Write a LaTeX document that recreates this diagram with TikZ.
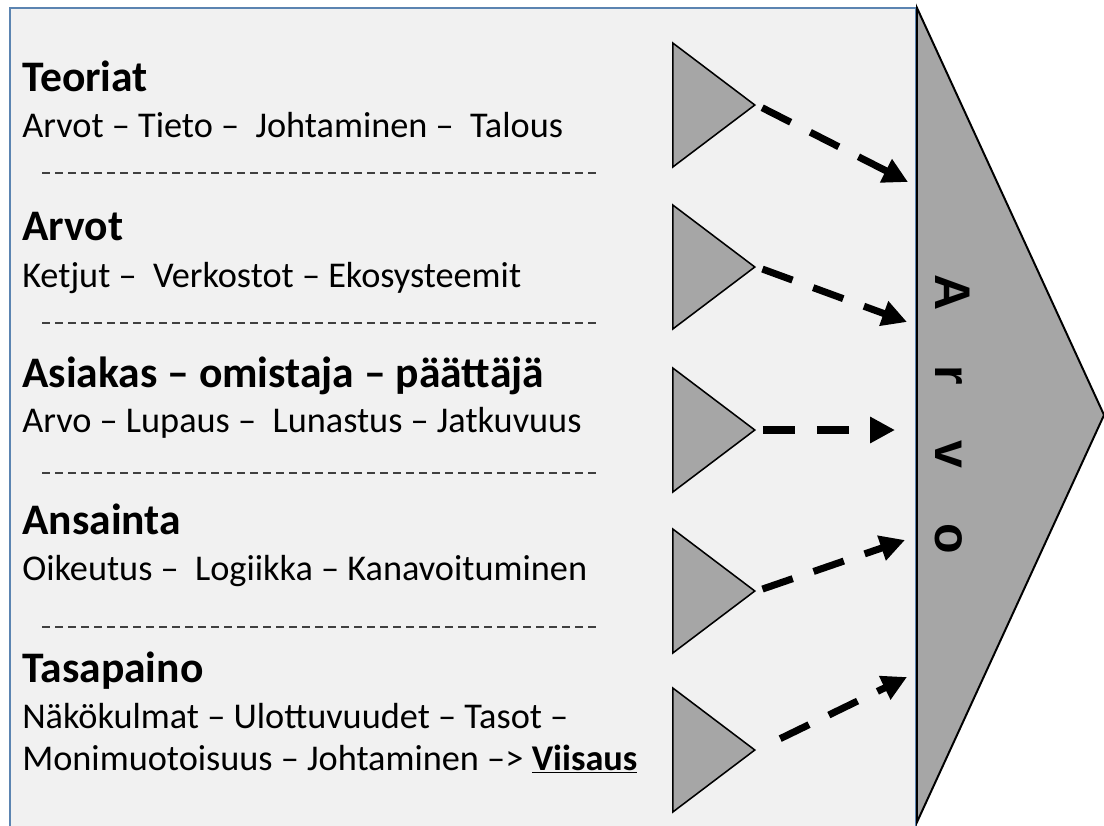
\documentclass[tikz,border=0pt]{standalone}
\usepackage{fontspec}
\setmainfont{Carlito}
\newfontfamily\arvofont{Liberation Sans}
\usetikzlibrary{arrows.meta,shapes.geometric}
\definecolor{boxgray}{HTML}{F1F1F1}
\definecolor{boxblue}{HTML}{5B84B1}
\definecolor{trigray}{HTML}{A6A6A6}

\begin{document}
\begin{tikzpicture}[
    x=0.025cm,
    y=-0.025cm,
    otsikko/.style={
        anchor=base west,
        inner sep=0pt,
        font=\bfseries\fontsize{31}{36}\selectfont
    },
    rivi/.style={
        anchor=base west,
        inner sep=0pt,
        font=\fontsize{25.8}{30}\selectfont
    },
    erotin/.style={
        black!75,
        line width=1.1pt,
        dash pattern=on 0.2cm off 0.125cm
    },
    kolmio/.style={
        isosceles triangle,
        isosceles triangle stretches,
        draw=black,
        fill=trigray,
        line width=1.1pt,
        inner sep=0pt,
        minimum width=3.1cm,
        minimum height=2.05cm,
        anchor=lower side
    },
    nuoli/.style={
        -{Triangle[length=0.62cm,width=0.62cm]},
        line width=5pt,
        dash pattern=on 0.8cm off 0.55cm,
        shorten <=0.15cm
    }
]

    \clip (0,0) rectangle (1104,825);

    % Tausta
    \draw[
        fill=boxgray,
        draw=boxblue,
        line width=1.2pt
    ] (10,8) rectangle (916,840);

    % Iso nuoli
    \node[
        isosceles triangle,
        isosceles triangle stretches,
        draw=black,
        fill=trigray,
        line width=1.4pt,
        inner sep=0pt,
        minimum width=20.35cm,
        minimum height=4.675cm,
        anchor=lower side
    ] (arvo) at (916,415) {};

    \node[
        anchor=base,
        rotate=-90,
        inner sep=0pt,
        font=\arvofont\bfseries\fontsize{35.6}{40}\selectfont
    ] (arvoteksti) at (935,414)
        {A\hspace{1.1em}r\hspace{1.1em}v\hspace{1.1em}o};

    % Teoriat
    \node[otsikko] (teoriat) at (22,91) {Teoriat};
    \node[rivi] (teoriatrivi) at (22,137)
        {Arvot – Tieto –\ \ Johtaminen –\ \ Talous};
    \draw[erotin] (42,173) -- (598,173);

    % Arvot
    \node[otsikko] (arvot) at (22,240) {Arvot};
    \node[rivi] (arvotrivi) at (22,287)
        {Ketjut –\ \ Verkostot – Ekosysteemit};
    \draw[erotin] (42,323) -- (598,323);

    % Asiakas
    \node[otsikko] (asiakas) at (22,387) {Asiakas – omistaja – päättäjä};
    \node[rivi] (asiakasrivi) at (22,432)
        {Arvo – Lupaus –\ \ Lunastus – Jatkuvuus};
    \draw[erotin] (42,473) -- (598,473);

    % Ansainta
    \node[otsikko] (ansainta) at (22,534) {Ansainta};
    \node[rivi] (ansaintarivi) at (22,580)
        {Oikeutus –\ \ Logiikka – Kanavoituminen};
    \draw[erotin] (42,627) -- (598,627);

    % Tasapaino
    \node[otsikko] (tasapaino) at (22,682) {Tasapaino};
    \node[rivi] (tasapainorivi1) at (22,728)
        {Näkökulmat – Ulottuvuudet – Tasot –};
    \node[rivi] (tasapainorivi2) at (22,770)
        {Monimuotoisuus – Johtaminen –> \underline{\textbf{Viisaus}}};

    % Kolmiot
    \node[kolmio] (k1) at (672,105) {};
    \node[kolmio] (k2) at (672,267) {};
    \node[kolmio] (k3) at (672,430) {};
    \node[kolmio] (k4) at (672,591) {};
    \node[kolmio] (k5) at (672,750) {};

    % Nuolten kärjet
    \coordinate (p1) at (908,182);
    \coordinate (p2) at (907,322);
    \coordinate (p3) at (895,430);
    \coordinate (p4) at (905,540);
    \coordinate (p5) at (907,677);

    % Nuolet
    \draw[nuoli] (k1.apex) -- (p1);
    \draw[nuoli] (k2.apex) -- (p2);
    \draw[nuoli] (k3.apex) -- (p3);
    \draw[nuoli] (k4.apex) -- (p4);
    \draw[
        nuoli,
        shorten <=0.65cm
    ] (k5.apex) -- (p5);

\end{tikzpicture}
\end{document}
